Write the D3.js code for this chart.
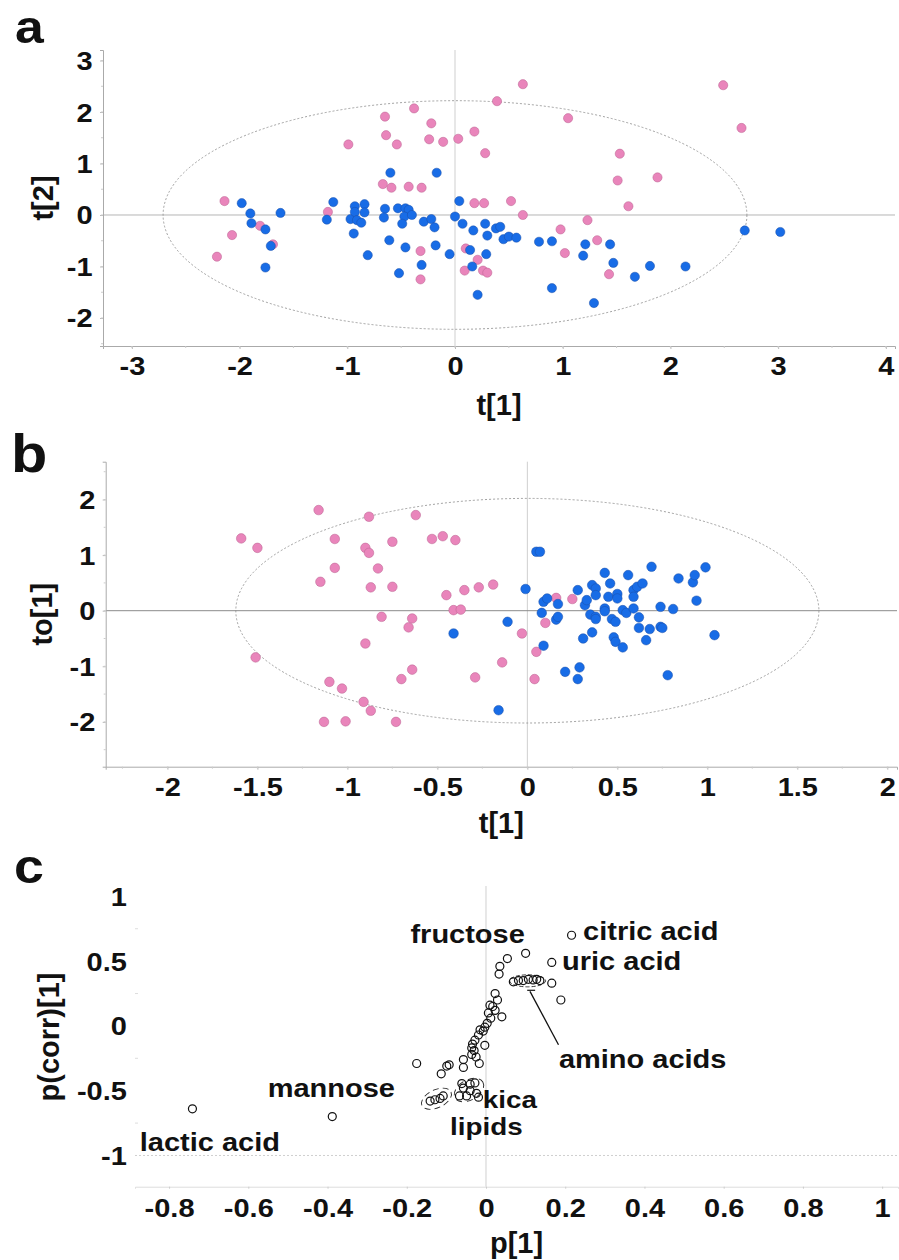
<!DOCTYPE html>
<html><head><meta charset="utf-8">
<script src="https://cdn.jsdelivr.net/npm/d3@7/dist/d3.min.js"></script>
<style>
body{margin:0;background:#fff;}
svg{display:block;}
text{font-family:"Liberation Sans",Arial,sans-serif;font-weight:bold;fill:#111;}
</style></head>
<body>
<svg id="chart" width="899" height="1260"></svg>
<script>
// ---------- DATA ----------
// Panel a: PCA scores t[1] vs t[2]
const aPink = [[-2.14,0.27],[-2.07,-0.39],[-2.21,-0.81],[-1.81,-0.21],[-1.69,-0.57],[-1.18,0.06],[-0.99,1.37],[-0.65,1.91],[-0.64,1.55],[-0.54,1.37],[-0.38,2.07],[-0.22,1.78],[-0.24,1.47],[-0.11,1.42],[-0.67,0.60],[-0.59,0.53],[-0.43,0.55],[-0.31,0.53],[-0.32,-0.70],[-0.32,-1.25],[0.03,1.48],[0.18,1.62],[0.28,1.20],[0.39,2.21],[0.63,2.54],[1.05,1.88],[1.53,1.19],[1.51,0.67],[1.88,0.73],[1.61,0.17],[2.49,2.52],[2.66,1.69],[0.18,0.23],[0.27,0.23],[0.52,0.27],[0.63,0.0],[1.23,-0.10],[0.98,-0.28],[1.32,-0.49],[1.02,-0.74],[1.43,-1.15],[0.10,-0.65],[0.21,-0.87],[0.09,-1.08],[0.26,-1.08],[0.30,-1.12]];
const aBlue = [[-1.98,0.23],[-1.90,0.03],[-1.89,-0.16],[-1.76,-0.28],[-1.71,-0.60],[-1.76,-1.02],[-1.62,0.04],[-1.13,0.25],[-1.19,-0.09],[-0.97,-0.08],[-0.93,0.17],[-0.93,0.06],[-0.84,0.21],[-0.84,0.05],[-0.91,-0.10],[-0.87,-0.15],[-0.94,-0.36],[-0.81,-0.78],[-0.60,0.82],[-0.65,0.12],[-0.66,-0.05],[-0.53,0.13],[-0.46,0.13],[-0.43,0.10],[-0.47,-0.03],[-0.49,-0.17],[-0.40,0.0],[-0.61,-0.49],[-0.46,-0.63],[-0.52,-1.13],[-0.31,-0.97],[-0.29,-0.13],[-0.22,-0.08],[-0.19,-0.24],[-0.18,-0.59],[-0.17,0.82],[-0.05,-0.76],[0.04,0.27],[0.0,-0.03],[0.07,-0.17],[0.17,-0.30],[0.28,-0.17],[0.30,-0.40],[0.38,-0.26],[0.42,-0.23],[0.45,-0.47],[0.50,-0.42],[0.57,-0.44],[0.78,-0.52],[0.90,-0.51],[1.21,-0.57],[1.44,-0.57],[1.19,-0.79],[1.47,-0.93],[1.67,-1.20],[1.81,-0.99],[2.14,-1.00],[2.69,-0.30],[3.02,-0.33],[0.90,-1.42],[1.29,-1.71],[0.21,-1.55],[0.29,-0.76],[0.14,-0.68],[0.16,-1.00]];
const aXTicks = [-3,-2,-1,0,1,2,3,4];
const aXLabels = ["-3","-2","-1","0","1","2","3","4"];
const aYTicks = [3,2,1,0,-1,-2];
const aYLabels = ["3","2","1","0","-1","-2"];
const aEllipse = [2.71,2.22];

// Panel b: OPLS-DA scores t[1] vs to[1]
const bPink = [[-1.59,1.30],[-1.50,1.13],[-1.16,1.81],[-0.88,1.69],[-0.62,1.72],[-1.07,1.29],[-0.90,1.13],[-0.88,1.04],[-0.75,1.24],[-0.53,1.29],[-0.47,1.34],[-0.40,1.27],[-1.07,0.77],[-0.83,0.76],[-1.15,0.52],[-0.87,0.42],[-0.75,0.43],[-0.45,0.28],[-0.35,0.37],[-0.27,0.42],[-0.19,0.47],[-0.41,0.01],[-0.37,0.02],[-0.81,-0.11],[-0.64,-0.14],[-0.66,-0.30],[-0.90,-0.59],[-1.51,-0.84],[-0.64,-1.06],[-0.70,-1.23],[-1.10,-1.28],[-1.03,-1.40],[-0.91,-1.64],[-0.87,-1.80],[-1.13,-2.00],[-1.01,-1.99],[-0.73,-2.00],[-0.29,-1.20],[0.16,0.23],[0.25,0.21],[0.10,-0.22],[-0.03,-0.41],[0.05,-0.74],[-0.14,-0.93],[0.04,-1.23]];
const bBlue = [[0.05,1.06],[0.07,1.06],[-0.01,0.39],[-0.11,-0.20],[-0.16,-1.79],[-0.41,-0.41],[0.08,-0.04],[0.09,0.16],[0.11,0.22],[0.17,0.12],[0.16,-0.16],[0.17,-0.11],[0.09,-0.63],[0.28,0.37],[0.21,-1.10],[0.29,-1.02],[0.28,-1.23],[0.31,-0.50],[0.36,-0.39],[0.32,0.10],[0.33,0.19],[0.36,0.46],[0.38,0.40],[0.38,0.28],[0.35,-0.07],[0.38,-0.11],[0.38,-0.15],[0.43,0.68],[0.43,0.04],[0.43,-0.01],[0.45,0.25],[0.50,0.30],[0.50,0.22],[0.46,0.49],[0.47,-0.15],[0.49,-0.20],[0.48,-0.48],[0.49,-0.56],[0.53,-0.66],[0.53,0.01],[0.55,-0.04],[0.56,0.64],[0.59,0.37],[0.61,0.43],[0.64,0.49],[0.59,0.25],[0.59,0.04],[0.62,-0.12],[0.62,-0.31],[0.68,-0.33],[0.66,-0.53],[0.69,0.79],[0.74,0.07],[0.74,-0.29],[0.75,-0.31],[0.78,-1.16],[0.81,0.03],[0.84,0.58],[0.92,0.51],[0.93,0.64],[0.94,0.18],[0.99,0.78],[1.04,-0.44]];
const bXTicks = [-2,-1.5,-1,-0.5,0,0.5,1,1.5,2];
const bXLabels = ["-2","-1.5","-1","-0.5","0","0.5","1","1.5","2"];
const bYTicks = [2,1,0,-1,-2];
const bYLabels = ["2","1","0","-1","-2"];
const bEllipse = [1.62,2.02];

// Panel c: S-plot p[1] vs p(corr)[1]
const cPoints = [[-0.741,-0.64],[-0.388,-0.70],[-0.175,-0.29],[-0.113,-0.37],[-0.099,-0.31],[0.216,0.70],[0.166,0.49],[0.10,0.56],[0.054,0.52],[0.035,0.46],[0.033,0.40],[0.166,0.33],[0.189,0.20],[0.069,0.34],[0.082,0.35],[0.094,0.35],[0.107,0.36],[0.119,0.355],[0.128,0.36],[0.136,0.35],[0.023,0.25],[0.029,0.20],[0.010,0.16],[0.017,0.15],[0.023,0.12],[0.006,0.10],[0.040,0.07],[0.012,0.06],[0.003,0.02],[-0.003,-0.01],[-0.007,-0.04],[-0.015,-0.03],[-0.019,-0.07],[-0.003,-0.15],[-0.028,-0.11],[-0.034,-0.14],[-0.036,-0.17],[-0.030,-0.19],[-0.036,-0.22],[-0.025,-0.24],[-0.017,-0.29],[-0.057,-0.26],[-0.057,-0.32],[-0.093,-0.30],[-0.061,-0.445],[-0.040,-0.45],[-0.028,-0.44],[-0.057,-0.48],[-0.040,-0.50],[-0.024,-0.52],[-0.019,-0.55],[-0.067,-0.54],[-0.049,-0.54],[-0.141,-0.58],[-0.129,-0.57],[-0.116,-0.56],[-0.108,-0.54]];
const cLabelText = ["fructose","citric acid","uric acid","amino acids","kica","lipids","mannose","lactic acid"];
const cLabelAt = [[0.098,0.643],[0.245,0.666],[0.192,0.435],[0.184,-0.322],[-0.008,-0.632],[-0.091,-0.842],[-0.551,-0.546],[-0.874,-0.962]];
const cLabelAnchor = ["end","start","start","start","start","start","start","start"];
const cXTicks = [-0.8,-0.6,-0.4,-0.2,0,0.2,0.4,0.6,0.8,1];
const cXLabels = ["-0.8","-0.6","-0.4","-0.2","0","0.2","0.4","0.6","0.8","1"];
const cYTicks = [1,0.5,0,-0.5,-1];
const cYLabels = ["1","0.5","0","-0.5","-1"];

// ---------- DRAW ----------
const svg = d3.select("#chart");
const PINK = "#e985bb", BLUE = "#186ce6";
const SX = 1.16;

function tickText(sel){
  sel.selectAll("text").style("font-size","25px").attr("fill","#111")
     .attr("transform",`scale(${SX},1)`);
}
function label(g, x, y, str, size, anchor, sx){
  return g.append("text").attr("transform",`translate(${x},${y}) scale(${sx||1},1)`)
    .attr("text-anchor",anchor||"start").style("font-size",size+"px").text(str);
}

function scorePanel(o){
  const g = svg.append("g");
  const x = d3.scaleLinear().domain(o.xd).range([o.L,o.R]);
  const y = d3.scaleLinear().domain(o.yd).range([o.B,o.T]);
  g.append("line").attr("x1",x(0)).attr("x2",x(0)).attr("y1",o.T).attr("y2",o.B).attr("stroke","#cfcfcf").attr("stroke-width",1);
  g.append("line").attr("x1",o.L).attr("x2",o.R).attr("y1",y(0)).attr("y2",y(0)).attr("stroke",o.hz).attr("stroke-width",1);
  g.append("ellipse").attr("cx",x(0)).attr("cy",y(0))
    .attr("rx",x(o.ell[0])-x(0)).attr("ry",y(0)-y(o.ell[1]))
    .attr("fill","none").attr("stroke","#8a8a8a").attr("stroke-width",0.8).attr("stroke-dasharray","2,2");
  const xa = g.append("g").attr("transform",`translate(0,${o.B})`)
    .call(d3.axisBottom(x).tickValues(o.xt).tickFormat((d,i)=>o.xl[i]).tickSize(3));
  xa.select(".domain").attr("stroke","#aaa");
  xa.selectAll(".tick line").attr("stroke","#bbb");
  tickText(xa); xa.selectAll("text").attr("y",29).attr("dy",null);
  const ya = g.append("g").attr("transform",`translate(${o.L},0)`)
    .call(d3.axisLeft(y).tickValues(o.yt).tickFormat((d,i)=>o.yl[i]).tickSize(3));
  ya.select(".domain").attr("stroke","#aaa");
  ya.selectAll(".tick line").attr("stroke","#bbb");
  tickText(ya); ya.selectAll("text").attr("x",-9).attr("dy","0.36em");
  const mx = d3.range(Math.ceil(o.xd[0]/o.mstepx)*o.mstepx, o.xd[1], o.mstepx);
  g.selectAll(null).data(mx).join("line").attr("x1",d=>x(d)).attr("x2",d=>x(d)).attr("y1",o.B).attr("y2",o.B+2).attr("stroke","#ccc");
  const my = d3.range(Math.ceil(o.yd[0]/0.5)*0.5, o.yd[1], 0.5);
  g.selectAll(null).data(my).join("line").attr("x1",o.L-2).attr("x2",o.L).attr("y1",d=>y(d)).attr("y2",d=>y(d)).attr("stroke","#ccc");
  g.selectAll(null).data(o.pink).join("circle").attr("cx",d=>x(d[0])).attr("cy",d=>y(d[1])).attr("r",o.r)
    .attr("fill",PINK).attr("stroke","#b9608f").attr("stroke-width",0.5);
  g.selectAll(null).data(o.blue).join("circle").attr("cx",d=>x(d[0])).attr("cy",d=>y(d[1])).attr("r",o.r)
    .attr("fill",BLUE).attr("stroke","#1a4fa8").attr("stroke-width",0.5);
  label(g,(o.L+o.R)/2,o.xtY,o.xtitle,29,"middle");
  g.append("text").attr("transform",`translate(${o.ytX},${(o.T+o.B)/2}) rotate(-90)`)
    .attr("text-anchor","middle").style("font-size","29px").text(o.ytitle);
  label(g,o.pl[0],o.pl[1],o.plabel,o.pls,"start",1.1);
}

scorePanel({L:103,R:895,T:50,B:346,xd:[-3.268,4.085],yd:[-2.544,3.204],
  xt:aXTicks,xl:aXLabels,yt:aYTicks,yl:aYLabels,ell:aEllipse,pink:aPink,blue:aBlue,r:4.6,
  hz:"#b5b5b5",mstepx:0.5,xtitle:"t[1]",ytitle:"t[2]",xtY:415,ytX:53,plabel:"a",pl:[15,43],pls:47});

scorePanel({L:105.7,R:897,T:461.7,B:766.7,xd:[-2.343,2.054],yd:[-2.806,2.680],
  xt:bXTicks,xl:bXLabels,yt:bYTicks,yl:bYLabels,ell:bEllipse,pink:bPink,blue:bBlue,r:4.8,
  hz:"#8c8c8c",mstepx:0.25,xtitle:"t[1]",ytitle:"to[1]",xtY:833,ytX:52,plabel:"b",pl:[11,472],pls:54});

// Panel c
(function(){
  const L=135,R=898,T=886,B=1186.7;
  const g = svg.append("g");
  const x = d3.scaleLinear().domain([-0.886,1.040]).range([L,R]);
  const y = d3.scaleLinear().domain([-1.241,1.080]).range([B,T]);
  g.append("line").attr("x1",x(0)).attr("x2",x(0)).attr("y1",T).attr("y2",B).attr("stroke","#d0d0d0");
  g.append("line").attr("x1",L).attr("x2",R).attr("y1",y(-1)).attr("y2",y(-1)).attr("stroke","#cfcfcf").attr("stroke-dasharray","2,2");
  const xa = g.append("g").attr("transform",`translate(0,${B})`)
    .call(d3.axisBottom(x).tickValues(cXTicks).tickFormat((d,i)=>cXLabels[i]).tickSize(2));
  xa.select(".domain").attr("stroke","#ddd");
  xa.selectAll(".tick line").attr("stroke","#ccc");
  tickText(xa); xa.selectAll("text").attr("y",30).attr("dy",null);
  const ya = g.append("g").attr("transform",`translate(${L},0)`)
    .call(d3.axisLeft(y).tickValues(cYTicks).tickFormat((d,i)=>cYLabels[i]).tickSize(0));
  ya.select(".domain").remove();
  tickText(ya); ya.selectAll("text").attr("x",-7).attr("dy","0.36em");
  g.selectAll(null).data([0.75,0.25,-0.25,-0.75]).join("line").attr("x1",L).attr("x2",L+3)
    .attr("y1",d=>y(d)).attr("y2",d=>y(d)).attr("stroke","#ddd");
  g.append("ellipse").attr("cx",x(0.105)).attr("cy",y(0.348)).attr("rx",18).attr("ry",6)
    .attr("fill","none").attr("stroke","#222").attr("stroke-width",0.9).attr("stroke-dasharray","4,2");
  g.append("ellipse").attr("transform",`translate(${x(-0.125)},${y(-0.562)}) rotate(-25)`).attr("rx",16).attr("ry",9)
    .attr("fill","none").attr("stroke","#222").attr("stroke-width",0.9).attr("stroke-dasharray","6,4");
  g.append("ellipse").attr("transform",`translate(${x(-0.043)},${y(-0.495)}) rotate(-30)`).attr("rx",16).attr("ry",10)
    .attr("fill","none").attr("stroke","#222").attr("stroke-width",0.9).attr("stroke-dasharray","6,5");
  g.append("line").attr("x1",x(0.111)).attr("y1",y(0.267)).attr("x2",x(0.183)).attr("y2",y(-0.145))
    .attr("stroke","#111").attr("stroke-width",1.3);
  g.append("line").attr("x1",x(0.104)).attr("x2",x(0.124)).attr("y1",y(0.275)).attr("y2",y(0.275))
    .attr("stroke","#111").attr("stroke-width",1.2);
  g.selectAll(null).data(cPoints).join("circle").attr("cx",d=>x(d[0])).attr("cy",d=>y(d[1])).attr("r",4)
    .attr("fill","none").attr("stroke","#111").attr("stroke-width",1.2);
  cLabelText.forEach((t,i)=>label(g,x(cLabelAt[i][0]),y(cLabelAt[i][1]),t,i===4||i===5?24:25,cLabelAnchor[i],SX));
  label(g,(L+R)/2,1253,"p[1]",29,"middle");
  g.append("text").attr("transform",`translate(59,1037) rotate(-90)`)
    .attr("text-anchor","middle").style("font-size","29px").text("p(corr)[1]");
  label(g,14,883,"c",48,"start",1.12);
})();
</script>
</body></html>
